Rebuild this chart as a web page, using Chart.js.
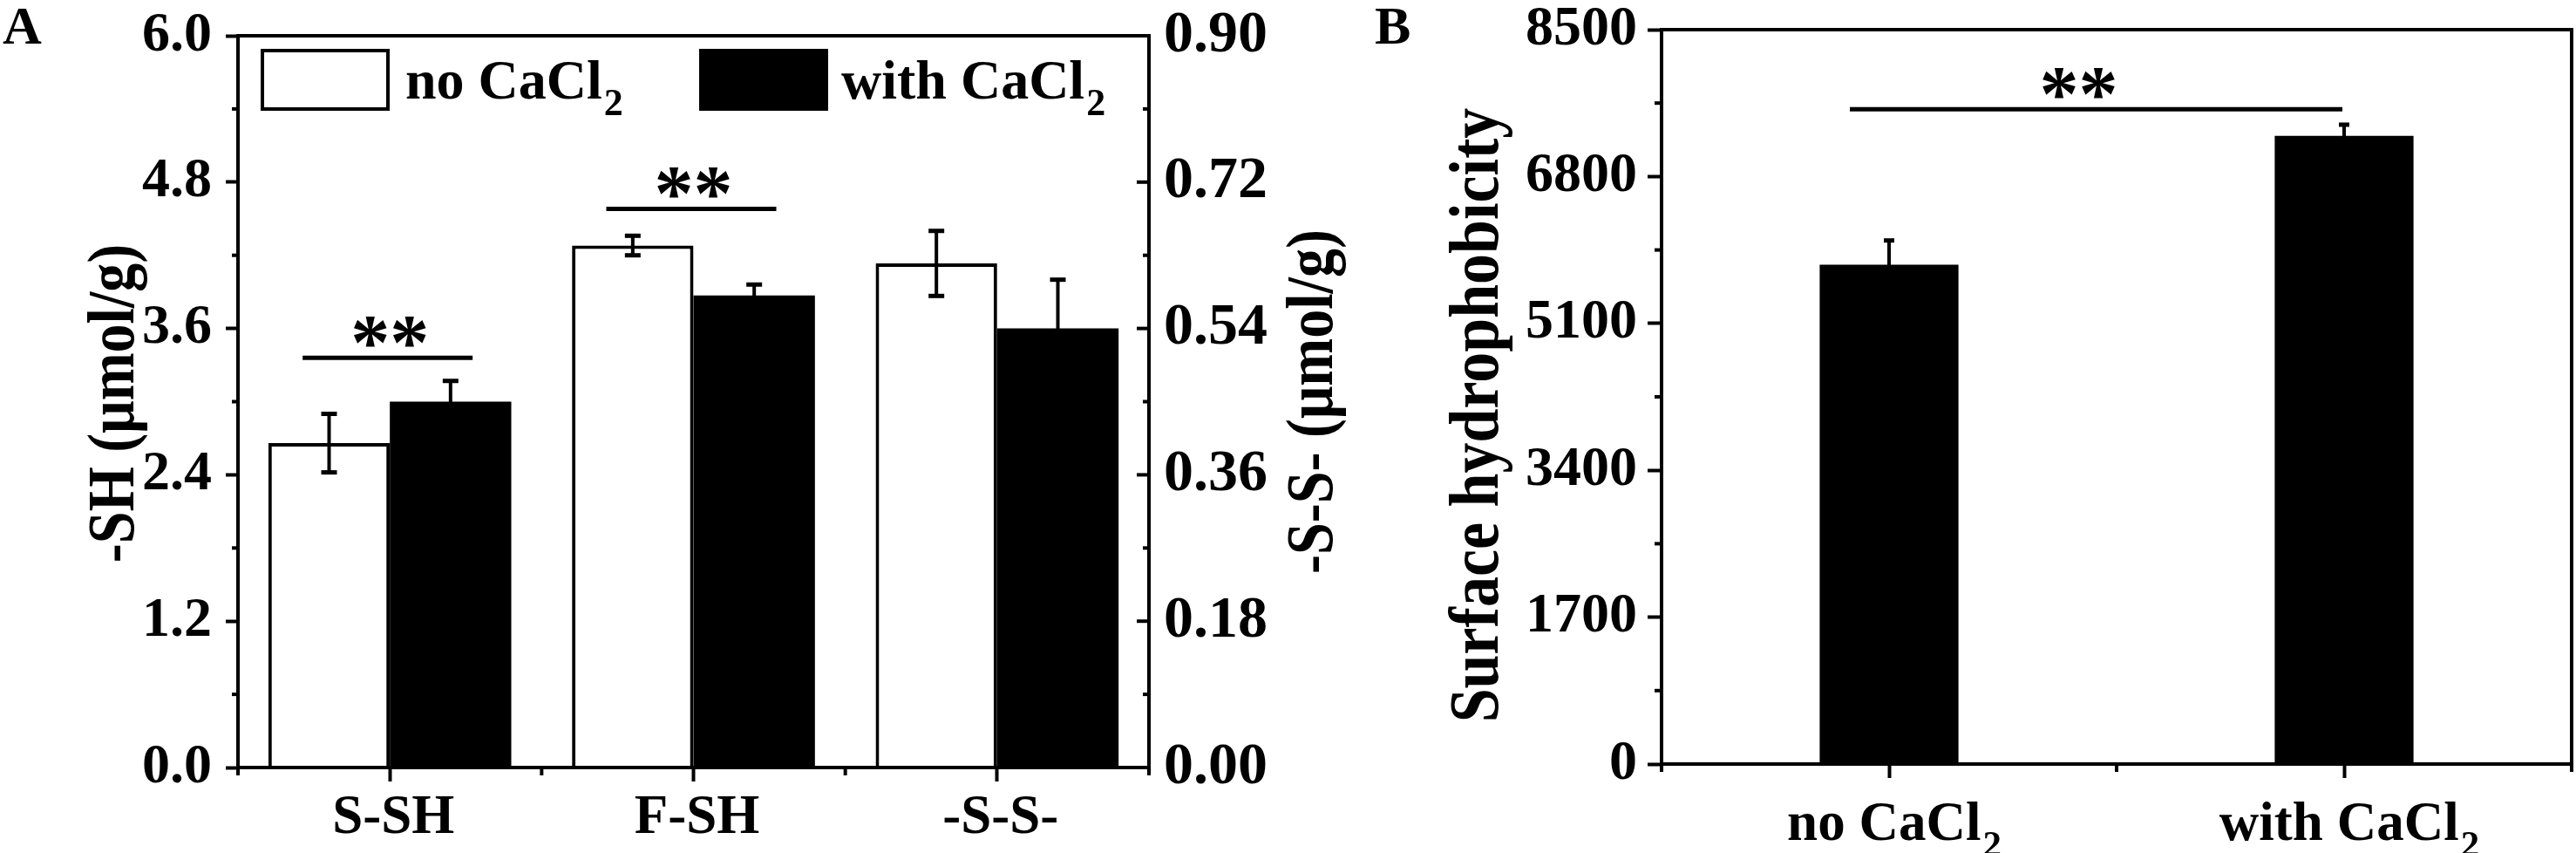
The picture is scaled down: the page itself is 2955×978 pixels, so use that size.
<!DOCTYPE html>
<html>
<head>
<meta charset="utf-8">
<script src="https://cdn.jsdelivr.net/npm/chart.js@4.4.1/dist/chart.umd.min.js"></script>
<style>
    html, body { margin: 0; padding: 0; background: #fff; }
    #wrap { position: relative; width: 2955px; height: 978px; overflow: hidden; }
    canvas { position: absolute; top: 0; }
    #chartA { left: 0; }
    #chartB { left: 1560px; }
</style>
</head>
<body>
<div id="wrap">
    <canvas id="chartA" width="1560" height="978"></canvas>
    <canvas id="chartB" width="1395" height="978"></canvas>
</div>
<script>
// Panel A: sulfhydryl / disulfide content
const thiolCategories = ['S-SH', 'F-SH', '-S-S-'];
const seriesNames = ['no CaCl2', 'with CaCl2'];
const shNoCaCl2 = [2.66, 4.28, null];
const shNoCaCl2Err = [0.24, 0.08, null];
const shWithCaCl2 = [3.00, 3.87, null];
const shWithCaCl2Err = [0.17, 0.09, null];
const ssNoCaCl2 = [null, null, 0.62];
const ssNoCaCl2Err = [null, null, 0.04];
const ssWithCaCl2 = [null, null, 0.54];
const ssWithCaCl2Err = [null, null, 0.06];
const shTicks = [0, 1.2, 2.4, 3.6, 4.8, 6.0];
const ssTicks = [0, 0.18, 0.36, 0.54, 0.72, 0.90];
const sigA = [[0, 3.36], [1, 4.58]]; // [category index, bracket level in -SH units]

// Panel B: surface hydrophobicity
const hydroCategories = ['no CaCl2', 'with CaCl2'];
const hydroValues = [5780, 7270];
const hydroErr = [280, 130];
const hydroTicks = [0, 1700, 3400, 5100, 6800, 8500];
const sigBLevel = 7580;

const FONT = "'Liberation Serif', 'Times New Roman', serif";
Chart.defaults.font.family = FONT;
Chart.defaults.font.weight = 'bold';
Chart.defaults.color = '#000';

const midpoints = (t) => t.slice(0, -1).map((v, i) => (v + t[i + 1]) / 2);

function line(ctx, x1, y1, x2, y2, w) {
    ctx.lineWidth = w || 4;
    ctx.beginPath();
    ctx.moveTo(x1, y1);
    ctx.lineTo(x2, y2);
    ctx.stroke();
}

// text with a trailing digit drawn as subscript (CaCl2)
function subText(ctx, label, x, y, size, align) {
    const m = label.match(/^(.*?)(\d+)$/);
    const base = m ? m[1] : label;
    const sub = m ? m[2] : '';
    const subSize = Math.round(size * 0.68);
    ctx.save();
    ctx.fillStyle = '#000';
    ctx.textAlign = 'left';
    ctx.textBaseline = 'alphabetic';
    ctx.font = `bold ${size}px ${FONT}`;
    const wb = ctx.measureText(base).width;
    ctx.font = `bold ${subSize}px ${FONT}`;
    const ws = sub ? ctx.measureText(sub).width + 2 : 0;
    const x0 = align === 'center' ? x - (wb + ws) / 2 : x;
    ctx.font = `bold ${size}px ${FONT}`;
    ctx.fillText(base, x0, y);
    if (sub) {
        ctx.font = `bold ${subSize}px ${FONT}`;
        ctx.fillText(sub, x0 + wb + 2, y + size * 0.3);
    }
    ctx.restore();
}

// rotated axis title, reads bottom to top
function vTitle(ctx, text, baseX, midY, size) {
    ctx.save();
    ctx.fillStyle = '#000';
    ctx.font = `bold ${size}px ${FONT}`;
    ctx.textAlign = 'center';
    ctx.textBaseline = 'alphabetic';
    ctx.translate(baseX, midY);
    ctx.rotate(-Math.PI / 2);
    ctx.scale(1, 1.15);
    ctx.fillText(text, 0, 0);
    ctx.restore();
}

function stars(ctx, cx, cy) {
    ctx.save();
    ctx.fillStyle = '#000';
    ctx.font = `bold 90px ${FONT}`;
    ctx.textAlign = 'center';
    ctx.textBaseline = 'alphabetic';
    const m = ctx.measureText('**');
    ctx.fillText('**', cx, cy + (m.actualBoundingBoxAscent - m.actualBoundingBoxDescent) / 2);
    ctx.restore();
}

function letter(ctx, txt, x, y) {
    ctx.save();
    ctx.fillStyle = '#000';
    ctx.font = `bold 62px ${FONT}`;
    ctx.textAlign = 'left';
    ctx.fillText(txt, x, y);
    ctx.restore();
}

// keep the plot area where the layout padding puts it
const noScalePad = (s) => { s.paddingTop = 0; s.paddingBottom = 0; s.paddingLeft = 0; s.paddingRight = 0; };

const errorBars = {
    id: 'errorBars',
    afterDatasetsDraw(chart) {
        const ctx = chart.ctx;
        const capHalf = chart.canvas.id === 'chartA' ? 9 : 6;
        ctx.save();
        ctx.strokeStyle = '#000';
        chart.data.datasets.forEach((ds, i) => {
            const meta = chart.getDatasetMeta(i);
            const ys = chart.scales[meta.yAxisID];
            meta.data.forEach((bar, j) => {
                const v = ds.data[j];
                const e = ds.errors ? ds.errors[j] : null;
                if (v == null || e == null) return;
                const yt = ys.getPixelForValue(v + e);
                const yb = ys.getPixelForValue(v - e);
                line(ctx, bar.x, yt, bar.x, yb, 4);
                line(ctx, bar.x - capHalf, yt, bar.x + capHalf, yt, 5);
                line(ctx, bar.x - capHalf, yb, bar.x + capHalf, yb, 5);
            });
        });
        ctx.restore();
    }
};

const axisCommon = {
    grid: { display: true, drawOnChartArea: false, color: '#000', tickWidth: 4 },
    border: { display: true, width: 4, color: '#000' }
};

const decorA = {
    id: 'decorA',
    afterDraw(chart) {
        const ctx = chart.ctx;
        const a = chart.chartArea;
        const x = chart.scales.x, y = chart.scales.y, y1 = chart.scales.y1;
        ctx.save();
        ctx.strokeStyle = '#000';
        ctx.lineWidth = 4;
        ctx.strokeRect(a.left, a.top, a.right - a.left, a.bottom - a.top);

        midpoints(shTicks).forEach(v => line(ctx, a.left - 7, y.getPixelForValue(v), a.left, y.getPixelForValue(v)));
        ssTicks.forEach(v => line(ctx, a.right - 14, y1.getPixelForValue(v), a.right, y1.getPixelForValue(v)));
        midpoints(ssTicks).forEach(v => line(ctx, a.right - 7, y1.getPixelForValue(v), a.right, y1.getPixelForValue(v)));
        for (let i = 0; i <= thiolCategories.length; i++) {
            const px = x.getPixelForValue(i - 0.5);
            line(ctx, px, a.bottom, px, a.bottom + 9);
        }
        thiolCategories.forEach((c, i) => subText(ctx, c, x.getPixelForValue(i) + 4, a.bottom + 75, 63, 'center'));

        // significance
        sigA.forEach(([idx, level]) => {
            const cx = x.getPixelForValue(idx);
            const ly = y.getPixelForValue(level);
            line(ctx, cx - 100, ly, cx + 95, ly, 5);
            stars(ctx, cx, ly - 30);
        });

        // legend
        const lg = [[a.left + 26, a.left + 192, '#fff'], [a.left + 529, a.left + 692, '#000']];
        lg.forEach(([bx, tx, fill], i) => {
            ctx.fillStyle = '#000';
            ctx.fillRect(bx, a.top + 15, 148, 71);
            if (fill !== '#000') {
                ctx.fillStyle = fill;
                ctx.fillRect(bx + 4, a.top + 19, 140, 63);
            }
            subText(ctx, seriesNames[i], tx, a.top + 72, 64, 'left');
        });

        vTitle(ctx, '-SH (\u03bcmol/g)', a.left - 120, (a.top + a.bottom) / 2 + 2, 66);
        vTitle(ctx, '-S-S- (\u03bcmol/g)', a.right + 210, (a.top + a.bottom) / 2, 66);
        letter(ctx, 'A', 3, 50);
        ctx.restore();
    }
};

new Chart(document.getElementById('chartA'), {
    type: 'bar',
    data: {
        labels: thiolCategories,
        datasets: [
            { label: seriesNames[0], data: shNoCaCl2, errors: shNoCaCl2Err, yAxisID: 'y', stack: 'no',
              backgroundColor: '#fff', borderColor: '#000', borderWidth: 4, categoryPercentage: 0.8, barPercentage: 1 },
            { label: seriesNames[1], data: shWithCaCl2, errors: shWithCaCl2Err, yAxisID: 'y', stack: 'with',
              backgroundColor: '#000', borderWidth: 0, categoryPercentage: 0.8, barPercentage: 1 },
            { label: seriesNames[0], data: ssNoCaCl2, errors: ssNoCaCl2Err, yAxisID: 'y1', stack: 'no',
              backgroundColor: '#fff', borderColor: '#000', borderWidth: 4, categoryPercentage: 0.8, barPercentage: 1 },
            { label: seriesNames[1], data: ssWithCaCl2, errors: ssWithCaCl2Err, yAxisID: 'y1', stack: 'with',
              backgroundColor: '#000', borderWidth: 0, categoryPercentage: 0.8, barPercentage: 1 }
        ]
    },
    options: {
        responsive: false,
        animation: false,
        layout: { padding: { left: 0, right: 0, top: 41, bottom: 0 } },
        plugins: { legend: { display: false }, tooltip: { enabled: false } },
        scales: {
            x: {
                ...axisCommon,
                grid: { ...axisCommon.grid, offset: false, tickLength: 16 },
                ticks: { display: false },
                afterFit: s => { noScalePad(s); s.height = 98; }
            },
            y: {
                ...axisCommon,
                position: 'left', min: 0, max: 6, stacked: false,
                grid: { ...axisCommon.grid, tickLength: 14 },
                afterBuildTicks: s => { s.ticks = shTicks.map(v => ({ value: v })); },
                ticks: { font: { size: 64 }, padding: 16, callback: v => Number(v).toFixed(1) },
                afterFit: s => { noScalePad(s); s.width = 273; }
            },
            y1: {
                ...axisCommon,
                position: 'right', min: 0, max: 0.9, stacked: false,
                grid: { ...axisCommon.grid, drawTicks: false },
                afterBuildTicks: s => { s.ticks = ssTicks.map(v => ({ value: v })); },
                ticks: { font: { size: 68 }, padding: 17, callback: v => Number(v).toFixed(2) },
                afterFit: s => { noScalePad(s); s.width = 242; }
            }
        }
    },
    plugins: [errorBars, decorA]
});

const decorB = {
    id: 'decorB',
    afterDraw(chart) {
        const ctx = chart.ctx;
        const a = chart.chartArea;
        const x = chart.scales.x, y = chart.scales.y;
        ctx.save();
        ctx.strokeStyle = '#000';
        ctx.lineWidth = 4;
        ctx.strokeRect(a.left, a.top, a.right - a.left, a.bottom - a.top);

        midpoints(hydroTicks).forEach(v => line(ctx, a.left - 8, y.getPixelForValue(v), a.left, y.getPixelForValue(v)));
        for (let i = 0; i <= hydroCategories.length; i++) {
            const px = x.getPixelForValue(i - 0.5);
            line(ctx, px, a.bottom, px, a.bottom + 9);
        }
        hydroCategories.forEach((c, i) => subText(ctx, c, x.getPixelForValue(i) + 6, a.bottom + 87, 63, 'center'));

        const bars = chart.getDatasetMeta(0).data;
        const ly = y.getPixelForValue(sigBLevel);
        const x1 = bars[0].x - 45, x2 = bars[1].x - 2;
        line(ctx, x1, ly, x2, ly, 5);
        stars(ctx, (x1 + x2) / 2 - 20, ly - 30);

        vTitle(ctx, 'Surface hydrophobicity', a.left - 188, (a.top + a.bottom) / 2 + 21, 70);
        letter(ctx, 'B', 17, 50);
        ctx.restore();
    }
};

new Chart(document.getElementById('chartB'), {
    type: 'bar',
    data: {
        labels: hydroCategories,
        datasets: [{
            label: 'Surface hydrophobicity', data: hydroValues, errors: hydroErr,
            backgroundColor: '#000', borderWidth: 0, categoryPercentage: 1, barPercentage: 0.305
        }]
    },
    options: {
        responsive: false,
        animation: false,
        layout: { padding: { left: 0, right: 5, top: 34, bottom: 0 } },
        plugins: { legend: { display: false }, tooltip: { enabled: false } },
        scales: {
            x: {
                ...axisCommon,
                grid: { ...axisCommon.grid, offset: false, tickLength: 16 },
                ticks: { display: false },
                afterFit: s => { noScalePad(s); s.height = 102; }
            },
            y: {
                ...axisCommon,
                position: 'left', min: 0, max: 8500,
                grid: { ...axisCommon.grid, tickLength: 16 },
                afterBuildTicks: s => { s.ticks = hydroTicks.map(v => ({ value: v })); },
                ticks: { font: { size: 64 }, padding: 12, callback: v => String(v) },
                afterFit: s => { noScalePad(s); s.width = 346; }
            }
        }
    },
    plugins: [errorBars, decorB]
});
</script>
</body>
</html>
